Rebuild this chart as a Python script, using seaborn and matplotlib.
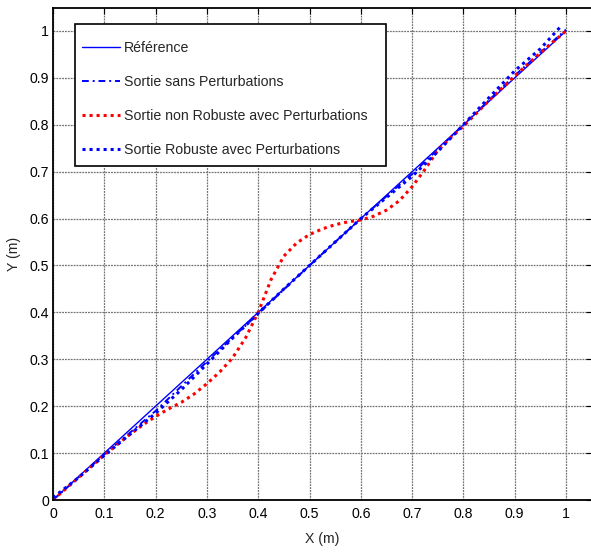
import matplotlib
matplotlib.use("Agg")
import matplotlib.pyplot as plt
from matplotlib.patches import Rectangle
import seaborn as sns
import pandas as pd

sns.set_style("white")
plt.rcParams['font.family'] = ['Liberation Sans', 'DejaVu Sans']

# Reference trajectory
x_ref = [0.0, 1.0]
y_ref = [0.0, 1.0]

# Output without perturbations
x_nom = [0.0, 0.1, 0.2, 0.3, 0.4, 0.5, 0.6, 0.7, 0.8, 0.9, 1.0]
y_nom = [0.0, 0.097, 0.190, 0.295, 0.397, 0.500, 0.600, 0.695, 0.800, 0.905, 1.003]

# Non-robust output with perturbations
x_nr = [0.000, 0.025, 0.050, 0.075, 0.100, 0.125, 0.150, 0.175, 0.200, 0.225,
        0.250, 0.275, 0.300, 0.325, 0.350, 0.375, 0.400, 0.425, 0.450, 0.475,
        0.500, 0.525, 0.550, 0.575, 0.600, 0.625, 0.650, 0.675, 0.700, 0.725,
        0.750, 0.775, 0.800, 0.825, 0.850, 0.875, 0.900, 0.925, 0.950, 0.975, 1.000]
y_nr = [0.000, 0.024, 0.048, 0.072, 0.096, 0.118, 0.140, 0.160, 0.178, 0.194,
        0.208, 0.226, 0.248, 0.273, 0.303, 0.345, 0.400, 0.470, 0.520, 0.548,
        0.566, 0.578, 0.587, 0.593, 0.597, 0.605, 0.618, 0.638, 0.668, 0.705,
        0.745, 0.772, 0.797, 0.824, 0.852, 0.878, 0.904, 0.929, 0.953, 0.977, 1.000]

# Robust output with perturbations
x_rb = [0.0, 0.05, 0.1, 0.15, 0.2, 0.25, 0.3, 0.35, 0.4, 0.45, 0.5,
        0.55, 0.6, 0.65, 0.7, 0.75, 0.8, 0.85, 0.9, 0.95, 0.99]
y_rb = [0.005, 0.048, 0.095, 0.140, 0.185, 0.235, 0.290, 0.345, 0.398, 0.450, 0.500,
        0.550, 0.600, 0.645, 0.690, 0.743, 0.800, 0.858, 0.915, 0.962, 1.010]

labels = ["Référence", "Sortie sans Perturbations",
          "Sortie non Robuste avec Perturbations", "Sortie Robuste avec Perturbations"]

FS = 10.2
W, H = 591, 553
AX_L, AX_B, AX_W, AX_H = 53, 53, 538.7, 492.5


def ax_coords(px, py):
    """Pixel position (from the top-left of the figure) to axes fraction."""
    return (px - AX_L) / AX_W, (H - AX_B - py) / AX_H


fig = plt.figure(figsize=(W / 100, H / 100), dpi=100)
ax = fig.add_axes([AX_L / W, AX_B / H, AX_W / W, AX_H / H])

series = [
    (x_ref, y_ref, dict(color=(0, 0, 1), linestyle='-', linewidth=1.0)),
    (x_nom, y_nom, dict(color=(0, 0, 1), linestyle=(0, (3.5, 2, 1, 2)), linewidth=1.4)),
    (x_nr, y_nr, dict(color=(1, 0, 0), linestyle=(0, (1, 1.3)), linewidth=2.2)),
    (x_rb, y_rb, dict(color=(0, 0, 1), linestyle=(0, (1, 1.3)), linewidth=2.2)),
]
for (xs, ys, style), lab in zip(series, labels):
    df = pd.DataFrame({"x": xs, "y": ys})
    sns.lineplot(data=df, x="x", y="y", ax=ax, sort=False, estimator=None,
                 label=lab, **style)

ax.set_xlim(0, 1.05)
ax.set_ylim(0, 1.05)
ticks = [0, 0.1, 0.2, 0.3, 0.4, 0.5, 0.6, 0.7, 0.8, 0.9, 1]
tick_labels = ["0", "0.1", "0.2", "0.3", "0.4", "0.5", "0.6", "0.7", "0.8", "0.9", "1"]
ax.set_xticks(ticks)
ax.set_xticklabels(tick_labels)
ax.set_yticks(ticks)
ax.set_yticklabels(tick_labels)
ax.tick_params(direction='in', length=4, width=0.8, top=True, right=True,
               labelsize=FS, colors='black')
ax.tick_params(axis='x', pad=5)
ax.tick_params(axis='y', pad=3)
ax.grid(True, color='0.45', linestyle=(0, (1.5, 0.8)), linewidth=0.9)
for sp in ax.spines.values():
    sp.set_color('black')
    sp.set_linewidth(1.3)

ax.set_xlabel("X (m)", fontsize=FS, labelpad=8)
ax.set_ylabel("Y (m)", fontsize=FS, labelpad=6)

# Legend entries without their own frame; the box is drawn separately
leg = ax.legend(loc='upper left', bbox_to_anchor=ax_coords(82, 41),
                fontsize=FS, frameon=False, handlelength=2.7, handletextpad=0.28,
                labelspacing=1.41, borderpad=0, borderaxespad=0)
leg.set_zorder(6)
x0, y1 = ax_coords(75, 24)
x1, y0 = ax_coords(386, 166)
box = Rectangle((x0, y0), x1 - x0, y1 - y0, transform=ax.transAxes,
                facecolor='white', edgecolor='black', linewidth=1.2, zorder=5)
ax.add_patch(box)

fig.savefig("out.png", dpi=100)
